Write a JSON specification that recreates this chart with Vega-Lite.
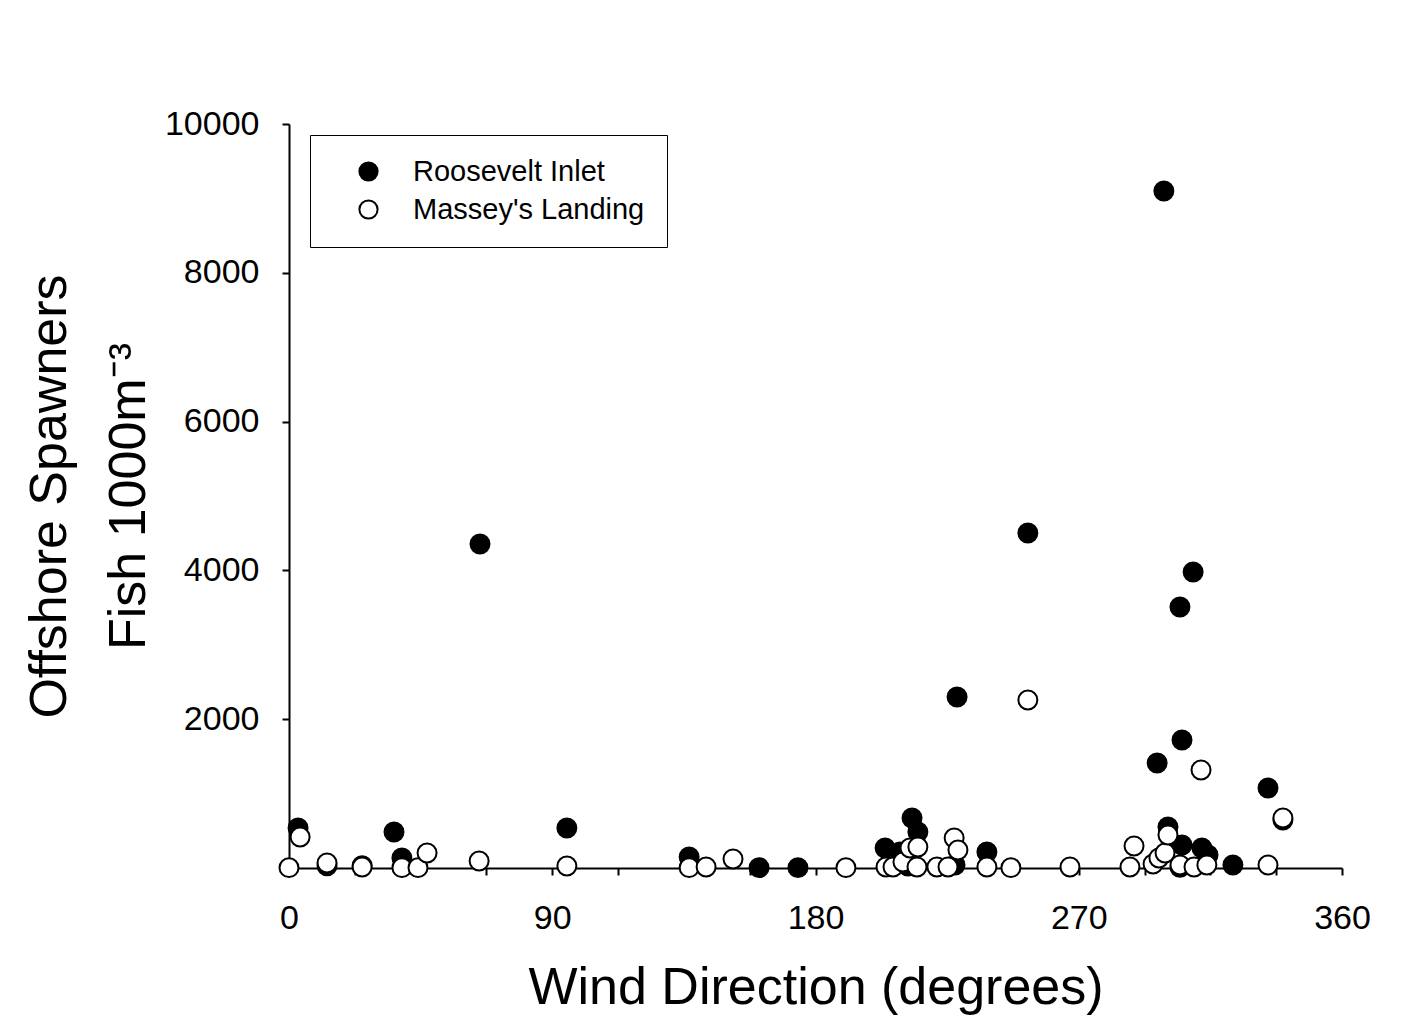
{
  "$schema": "https://vega.github.io/schema/vega-lite/v6.json",
  "width": 1053,
  "height": 744,
  "autosize": {"type": "none"},
  "padding": {"left": 289, "top": 124, "right": 59, "bottom": 159},
  "background": "white",
  "config": {
    "font": "Liberation Sans",
    "view": {"stroke": null},
    "axis": {
      "domainColor": "black",
      "domainWidth": 2,
      "tickColor": "black",
      "tickWidth": 2,
      "tickSize": 7,
      "grid": false,
      "labelColor": "black",
      "titleColor": "black",
      "labelFont": "Liberation Sans",
      "titleFont": "Liberation Sans",
      "labelFontSize": 34,
      "titleFontSize": 52,
      "titleFontWeight": "normal"
    }
  },
  "data": {
    "values": [
      {"site": "Roosevelt Inlet", "wind": 3.1, "fish": 538},
      {"site": "Roosevelt Inlet", "wind": 13, "fish": 30},
      {"site": "Roosevelt Inlet", "wind": 25, "fish": 30},
      {"site": "Roosevelt Inlet", "wind": 35.9, "fish": 484},
      {"site": "Roosevelt Inlet", "wind": 38.6, "fish": 134},
      {"site": "Roosevelt Inlet", "wind": 65.3, "fish": 4355},
      {"site": "Roosevelt Inlet", "wind": 95, "fish": 538},
      {"site": "Roosevelt Inlet", "wind": 136.8, "fish": 148},
      {"site": "Roosevelt Inlet", "wind": 160.7, "fish": 5},
      {"site": "Roosevelt Inlet", "wind": 174, "fish": 5},
      {"site": "Roosevelt Inlet", "wind": 203.8, "fish": 269},
      {"site": "Roosevelt Inlet", "wind": 208.9, "fish": 215},
      {"site": "Roosevelt Inlet", "wind": 211.6, "fish": 27},
      {"site": "Roosevelt Inlet", "wind": 213, "fish": 672},
      {"site": "Roosevelt Inlet", "wind": 215, "fish": 484},
      {"site": "Roosevelt Inlet", "wind": 227.7, "fish": 40},
      {"site": "Roosevelt Inlet", "wind": 228.4, "fish": 2298},
      {"site": "Roosevelt Inlet", "wind": 238.6, "fish": 215},
      {"site": "Roosevelt Inlet", "wind": 252.6, "fish": 4503},
      {"site": "Roosevelt Inlet", "wind": 296.8, "fish": 1411},
      {"site": "Roosevelt Inlet", "wind": 299.1, "fish": 9099},
      {"site": "Roosevelt Inlet", "wind": 300.5, "fish": 551},
      {"site": "Roosevelt Inlet", "wind": 304.6, "fish": 3508},
      {"site": "Roosevelt Inlet", "wind": 304.6, "fish": 10},
      {"site": "Roosevelt Inlet", "wind": 305.3, "fish": 1720},
      {"site": "Roosevelt Inlet", "wind": 305.3, "fish": 309},
      {"site": "Roosevelt Inlet", "wind": 309.1, "fish": 3978},
      {"site": "Roosevelt Inlet", "wind": 312.1, "fish": 269},
      {"site": "Roosevelt Inlet", "wind": 314.2, "fish": 175},
      {"site": "Roosevelt Inlet", "wind": 322.7, "fish": 40},
      {"site": "Roosevelt Inlet", "wind": 334.7, "fish": 1075},
      {"site": "Roosevelt Inlet", "wind": 339.8, "fish": 645},
      {"site": "Massey's Landing", "wind": 0, "fish": 5},
      {"site": "Massey's Landing", "wind": 3.8, "fish": 417},
      {"site": "Massey's Landing", "wind": 13, "fish": 67},
      {"site": "Massey's Landing", "wind": 25, "fish": 13},
      {"site": "Massey's Landing", "wind": 38.6, "fish": 5},
      {"site": "Massey's Landing", "wind": 44.1, "fish": 5},
      {"site": "Massey's Landing", "wind": 47.2, "fish": 202},
      {"site": "Massey's Landing", "wind": 65, "fish": 94},
      {"site": "Massey's Landing", "wind": 95, "fish": 27},
      {"site": "Massey's Landing", "wind": 136.8, "fish": 5},
      {"site": "Massey's Landing", "wind": 142.6, "fish": 13},
      {"site": "Massey's Landing", "wind": 151.8, "fish": 121},
      {"site": "Massey's Landing", "wind": 190.4, "fish": 5},
      {"site": "Massey's Landing", "wind": 204.1, "fish": 13},
      {"site": "Massey's Landing", "wind": 206.5, "fish": 13},
      {"site": "Massey's Landing", "wind": 209.9, "fish": 80},
      {"site": "Massey's Landing", "wind": 212.3, "fish": 269},
      {"site": "Massey's Landing", "wind": 215, "fish": 282},
      {"site": "Massey's Landing", "wind": 214.7, "fish": 13},
      {"site": "Massey's Landing", "wind": 221.5, "fish": 13},
      {"site": "Massey's Landing", "wind": 225.3, "fish": 13},
      {"site": "Massey's Landing", "wind": 227.4, "fish": 403},
      {"site": "Massey's Landing", "wind": 228.7, "fish": 242},
      {"site": "Massey's Landing", "wind": 238.6, "fish": 13},
      {"site": "Massey's Landing", "wind": 246.8, "fish": 5},
      {"site": "Massey's Landing", "wind": 252.6, "fish": 2258},
      {"site": "Massey's Landing", "wind": 267, "fish": 13},
      {"site": "Massey's Landing", "wind": 287.5, "fish": 13},
      {"site": "Massey's Landing", "wind": 288.9, "fish": 296},
      {"site": "Massey's Landing", "wind": 295.4, "fish": 54},
      {"site": "Massey's Landing", "wind": 297.4, "fish": 134},
      {"site": "Massey's Landing", "wind": 299.5, "fish": 202},
      {"site": "Massey's Landing", "wind": 300.5, "fish": 444},
      {"site": "Massey's Landing", "wind": 304.6, "fish": 40},
      {"site": "Massey's Landing", "wind": 309.4, "fish": 13},
      {"site": "Massey's Landing", "wind": 311.8, "fish": 1317},
      {"site": "Massey's Landing", "wind": 313.8, "fish": 40},
      {"site": "Massey's Landing", "wind": 334.7, "fish": 40},
      {"site": "Massey's Landing", "wind": 339.8, "fish": 672}
    ]
  },
  "mark": {"type": "point", "shape": "circle", "filled": true, "size": 360, "stroke": "black", "strokeWidth": 2, "opacity": 1, "clip": false},
  "encoding": {
    "x": {
      "field": "wind",
      "type": "quantitative",
      "scale": {"domain": [0, 360], "nice": false, "zero": false},
      "axis": {
        "title": "Wind Direction (degrees)",
        "values": [0, 22.5, 45, 67.5, 90, 112.5, 135, 157.5, 180, 202.5, 225, 247.5, 270, 292.5, 315, 337.5, 360],
        "labelExpr": "datum.value % 90 === 0 ? datum.label : ''",
        "labelOverlap": false,
        "labelFlush": false,
        "labelPadding": 26,
        "titlePadding": 27
      }
    },
    "y": {
      "field": "fish",
      "type": "quantitative",
      "scale": {"domain": [0, 10000], "nice": false},
      "axis": {
        "title": ["Offshore Spawners", "Fish 1000m⁻³"],
        "values": [2000, 4000, 6000, 8000, 10000],
        "format": "d",
        "labelPadding": 23,
        "titlePadding": 9,
        "titleLineHeight": 79
      }
    },
    "fill": {
      "field": "site",
      "type": "nominal",
      "sort": ["Roosevelt Inlet", "Massey's Landing"],
      "scale": {"domain": ["Roosevelt Inlet", "Massey's Landing"], "range": ["black", "white"]},
      "legend": {
        "title": null,
        "orient": "none",
        "legendX": 21,
        "legendY": 11,
        "padding": 22,
        "symbolOffset": 22,
        "labelOffset": 30,
        "rowPadding": 8,
        "labelFontSize": 29,
        "labelLimit": 500,
        "labelFont": "Liberation Sans",
        "labelColor": "black",
        "symbolType": "circle",
        "symbolSize": 330,
        "symbolStrokeColor": "black",
        "symbolStrokeWidth": 2,
        "strokeColor": "black",
        "fillColor": "white",
        "cornerRadius": 0
      }
    }
  }
}
